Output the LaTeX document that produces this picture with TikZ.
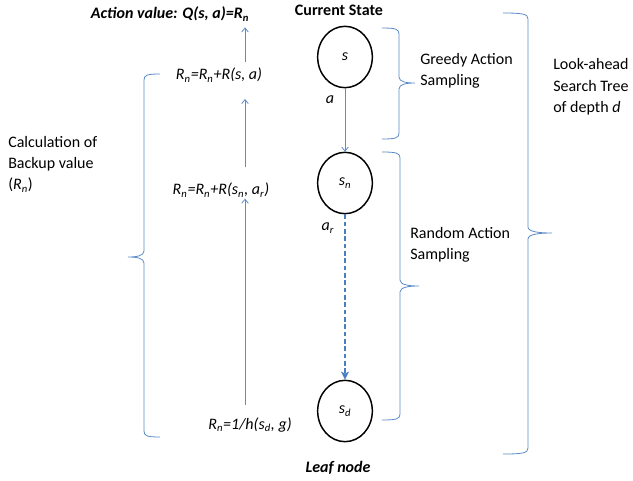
\documentclass[tikz,border=0pt]{standalone}
\usepackage{fontspec}
\setmainfont{Carlito}
\usetikzlibrary{shapes.geometric,arrows.meta}

\definecolor{linkblue}{HTML}{5B8BC9}
\definecolor{dashblue}{HTML}{4A7EC2}

% curly bracket: #1 end x, #2 spine x, #3 tip x, #4 top y, #5 tip y, #6 bottom y
\newcommand{\sidebrace}[6]{%
  \draw[bracket] (#1,#4) .. controls ({#2+(#1-#2)*0.2},#4) and (#2,{#4+1}) .. (#2,{#4+6})
    -- (#2,{#5-6}) .. controls (#2,{#5-1}) and ({(#2+#3)/2},#5) .. (#3,#5)
    .. controls ({(#2+#3)/2},#5) and (#2,{#5+1}) .. (#2,{#5+6})
    -- (#2,{#6-6}) .. controls (#2,{#6-1}) and ({#2+(#1-#2)*0.2},#6) .. (#1,#6);}

\tikzset{
  state/.style={ellipse, draw=black, line width=1.1pt, minimum width=41pt,
    minimum height=46pt, inner sep=0pt},
  lbl/.style={inner sep=1pt},
  thinarrow/.style={draw=linkblue, line width=0.6pt,
    -{Straight Barb[length=3pt,width=5pt]}},
  dasharrow/.style={draw=dashblue, line width=1.5pt, dash pattern=on 3.5pt off 2pt,
    -{Stealth[length=6pt,width=6pt,inset=1.5pt]}},
  bracket/.style={draw=linkblue, line width=0.6pt},
  textblock/.style={align=left, inner sep=0pt, anchor=west}
}

\begin{document}
\begin{tikzpicture}[x=0.75pt, y=-0.75pt, font=\fontsize{12}{16}\selectfont]
\useasboundingbox (0,0) rectangle (633,480);

% tree states
\node[state] (s) at (345,57) {\textit{s}};
\node[state] (sn) at (345,183) {\textit{s}\textsubscript{\textit{n}}};
\node[state] (sd) at (345,411) {\textit{s}\textsubscript{\textit{d}}};

\node[lbl] (cur) at (339,10) {\textbf{Current State}};
\node[lbl] (leaf) at (338,468) {\textbf{\textit{Leaf node}}};
\node[lbl] (a) at (330,100) {\textit{a}};
\node[lbl] (ar) at (328,228) {\textit{a}\textsubscript{\textit{r}}};

\draw[thinarrow] (s) -- (sn);
\draw[dasharrow] (sn) -- (sd);

% backup value formulas
\node[lbl] (qval) at (170,14) {\textbf{\textit{Action value: Q(s, a)=R\textsubscript{n}}}};
\node[lbl] (f1) at (219,75) {\textit{R\textsubscript{n}=R\textsubscript{n}+R(s, a)}};
\node[lbl] (f2) at (221,190) {\textit{R\textsubscript{n}=R\textsubscript{n}+R(s\textsubscript{n}, a\textsubscript{r})}};
\node[lbl] (f3) at (250,425) {\textit{R\textsubscript{n}=1/h(s\textsubscript{d}, g)}};

\coordinate (axis) at (245,0);
\draw[thinarrow, shorten <=3.5pt, shorten >=3.5pt] (f1.north -| axis) -- (qval.south -| axis);
\draw[thinarrow, shorten <=10.5pt, shorten >=11.5pt] (f2.north -| axis) -- (f1.south -| axis);
\draw[thinarrow, shorten <=8.5pt, shorten >=0pt] (f3.north -| axis) -- (f2.south -| axis);

% brackets and their captions
\sidebrace{160}{144}{128}{74}{257}{437}
\node[textblock] (calc) at (8,164) {Calculation of\\Backup value\\(\textit{R}\textsubscript{\textit{n}})};

\sidebrace{382}{399}{415}{28}{83}{139}
\node[textblock] (greedy) at (420,71) {Greedy Action\\Sampling};

\sidebrace{382}{400}{419}{152}{286}{420}
\node[textblock] (random) at (410,245) {Random Action\\Sampling};

\sidebrace{503}{528}{552}{13}{233}{454}
\node[textblock] (look) at (553,87) {Look-ahead\\Search Tree\\of depth \textit{d}};
\end{tikzpicture}
\end{document}
